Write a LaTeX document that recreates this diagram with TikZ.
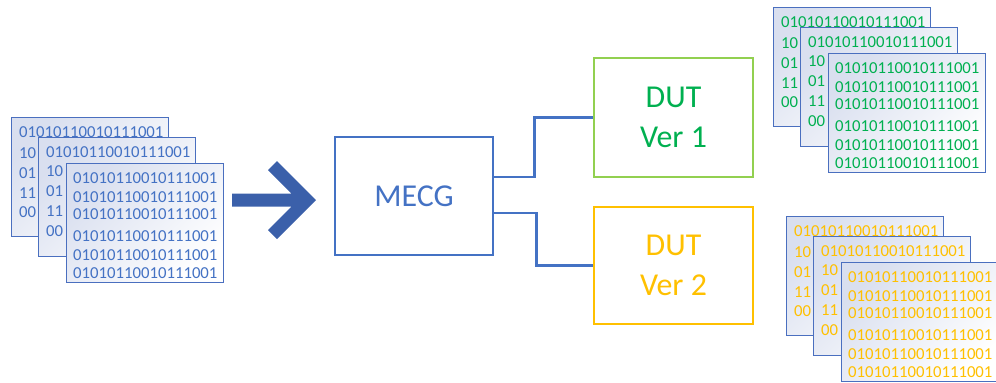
\documentclass[tikz,border=0pt]{standalone}
\usepackage{fontspec}
\setmainfont{Carlito}
\usetikzlibrary{calc}
\definecolor{acc}{HTML}{4472C4}
\definecolor{arrowblue}{HTML}{3B60AA}
\definecolor{cardline}{HTML}{4A6FBF}
\definecolor{cardtop}{HTML}{D9DFEF}
\definecolor{dutgreen}{HTML}{92D050}
\definecolor{txtgreen}{HTML}{00B050}
\definecolor{dutyellow}{HTML}{FFC000}
\tikzset{
  card/.style={draw=cardline, line width=1.3bp, minimum width=157bp, minimum height=119bp,
    inner sep=0pt, anchor=north west, shading=axis, top color=cardtop, bottom color=white, shading angle=45},
  bits/.style={anchor=west, inner sep=0pt, font=\fontsize{16.8}{18}\selectfont},
  mainbox/.style={line width=2.5bp, minimum width=158bp, minimum height=118bp, align=center,
    font=\fontsize{32}{40}\selectfont},
  wire/.style={draw=acc, line width=2.5bp}
}
% back card: first full line, then two-digit line starts
\newcommand\backcard[5]{% name, x, y, color, offsets/texts
  \node[card] (#1) at (#2,#3) {};
  \node[bits, text=#4] (#1t0) at (#2+8,#3+15) {01010110010111001};
  \foreach \dy/\s [count=\i] in {#5}
    \node[bits, text=#4] (#1t\i) at (#2+8,#3+\dy) {\s};
}
\newcommand\frontcard[4]{% name, x, y, color
  \node[card] (#1) at (#2,#3) {};
  \foreach \dy [count=\i] in {15,34,51,73,92,110}
    \node[bits, text=#4] (#1t\i) at (#2+7,#3+\dy) {01010110010111001};
}
\newcommand\bitstack[4]{% prefix, x, y, color
  \backcard{#1a}{#2}{#3}{#4}{36/10,56/01,76/11,95/00}
  \backcard{#1b}{#2+27}{#3+20}{#4}{34/10,54/01,74/11,94/00}
  \frontcard{#1c}{#2+55}{#3+46}{#4}
}
\begin{document}
\begin{tikzpicture}[x=1bp,y=-1bp]
\useasboundingbox (0,0) rectangle (996,382);
\begin{scope}
\clip (0,0) rectangle (996,382);
\bitstack{L}{11}{117}{acc}
\bitstack{G}{773}{7}{txtgreen}
\bitstack{Y}{786}{216}{dutyellow}
\end{scope}
% big arrow
\fill[arrowblue] (232,193.5) -- (291.5,193.5) -- (268,170) -- (277,161) -- (316,200)
  -- (277,239) -- (268,230) -- (291.5,206.5) -- (232,206.5) -- cycle;
% main boxes
\node[mainbox, draw=acc, text=acc] (mecg) at (414,196) {MECG};
\node[mainbox, draw=dutgreen, text=txtgreen, minimum width=159bp, minimum height=119bp] (dut1) at (673.5,117.5) {DUT\\Ver 1};
\node[mainbox, draw=dutyellow, text=dutyellow, minimum width=159bp, minimum height=117bp] (dut2) at (673.5,265.5) {DUT\\Ver 2};
% connectors
\draw[wire] ($(mecg.north east)+(0,41)$) -- ++(40,0) |- (dut1.west);
\draw[wire] ($(mecg.north east)+(0,77)$) -- ++(42,0) |- (dut2.west);
\end{tikzpicture}
\end{document}
